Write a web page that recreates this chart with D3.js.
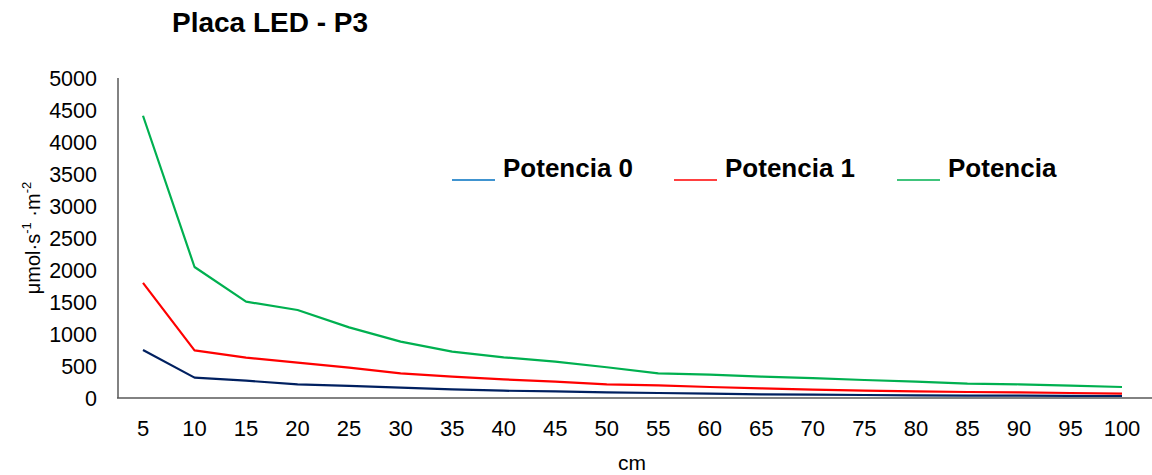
<!DOCTYPE html>
<html><head><meta charset="utf-8">
<script src="https://cdn.jsdelivr.net/npm/d3@7"></script>
<style>body{margin:0;background:#fff;font-family:"Liberation Sans",Arial,sans-serif;}</style>
</head><body><svg id="c" width="1152" height="475"></svg>
<script>
const categories = [5,10,15,20,25,30,35,40,45,50,55,60,65,70,75,80,85,90,95,100];
const potencia0 = [750,318,271,213,188,161,135,114,104,89,78,68,57,52,47,42,38,36,32,31];
const potencia1 = [1800,745,630,552,474,385,333,291,255,214,198,172,151,130,114,104,94,89,78,68];
const potencia2 = [4410,2047,1505,1375,1104,880,724,635,568,480,385,365,334,312,281,255,224,214,193,172];
const yTicks = [0,500,1000,1500,2000,2500,3000,3500,4000,4500,5000];
const seriesNames = ["Potencia 0","Potencia 1","Potencia"];
const lineColors = ["#002060","#FF0000","#00B050"];
const legendColors = ["#0070C0","#FF0000","#00B050"];

const svg = d3.select("#c");
const x = d3.scalePoint().domain(categories).range([143,1122]);
const y = d3.scaleLinear().domain([0,5000]).range([398,78]);

svg.append("text").attr("x",172).attr("y",32).attr("font-size",28).attr("font-weight","bold").text("Placa LED - P3");

// y tick labels
svg.append("g").selectAll("text").data(yTicks).join("text")
  .attr("x",97).attr("y",d=>y(d)).attr("dy","0.35em").attr("text-anchor","end")
  .attr("font-size",21.5).text(d=>d);
// x tick labels
svg.append("g").selectAll("text").data(categories).join("text")
  .attr("x",d=>x(d)).attr("y",428).attr("dy","0.35em").attr("text-anchor","middle")
  .attr("font-size",22).text(d=>d);

// axes lines
svg.append("line").attr("x1",118).attr("x2",118).attr("y1",78).attr("y2",398).attr("stroke","#595959").attr("stroke-width",1.5);
svg.append("line").attr("x1",117).attr("x2",1152).attr("y1",398).attr("y2",398).attr("stroke","#595959").attr("stroke-width",1.5);

// axis titles
svg.append("text").attr("x",632).attr("y",470).attr("text-anchor","middle").attr("font-size",21).text("cm");
const yl = svg.append("text").attr("transform","translate(40,238) rotate(-90)").attr("text-anchor","middle").attr("font-size",20);
yl.append("tspan").text("μmol·s");
yl.append("tspan").attr("font-size",13).attr("dy",-9).text("-1");
yl.append("tspan").attr("dy",9).text(" ·m");
yl.append("tspan").attr("font-size",13).attr("dy",-9).text("-2");

// lines
const line = d3.line().x((d,i)=>x(categories[i])).y(d=>y(d));
[potencia0,potencia1,potencia2].forEach((s,i)=>{
  svg.append("path").attr("d",line(s)).attr("fill","none").attr("stroke",lineColors[i]).attr("stroke-width",2.2).attr("stroke-linejoin","round");
});

// legend
const lx = [452,674,897];
seriesNames.forEach((n,i)=>{
  svg.append("line").attr("x1",lx[i]).attr("x2",lx[i]+43).attr("y1",180).attr("y2",180).attr("stroke",legendColors[i]).attr("stroke-width",1.5);
  svg.append("text").attr("x",lx[i]+51).attr("y",177).attr("font-size",26).attr("font-weight","bold").text(n);
});
</script></body></html>
